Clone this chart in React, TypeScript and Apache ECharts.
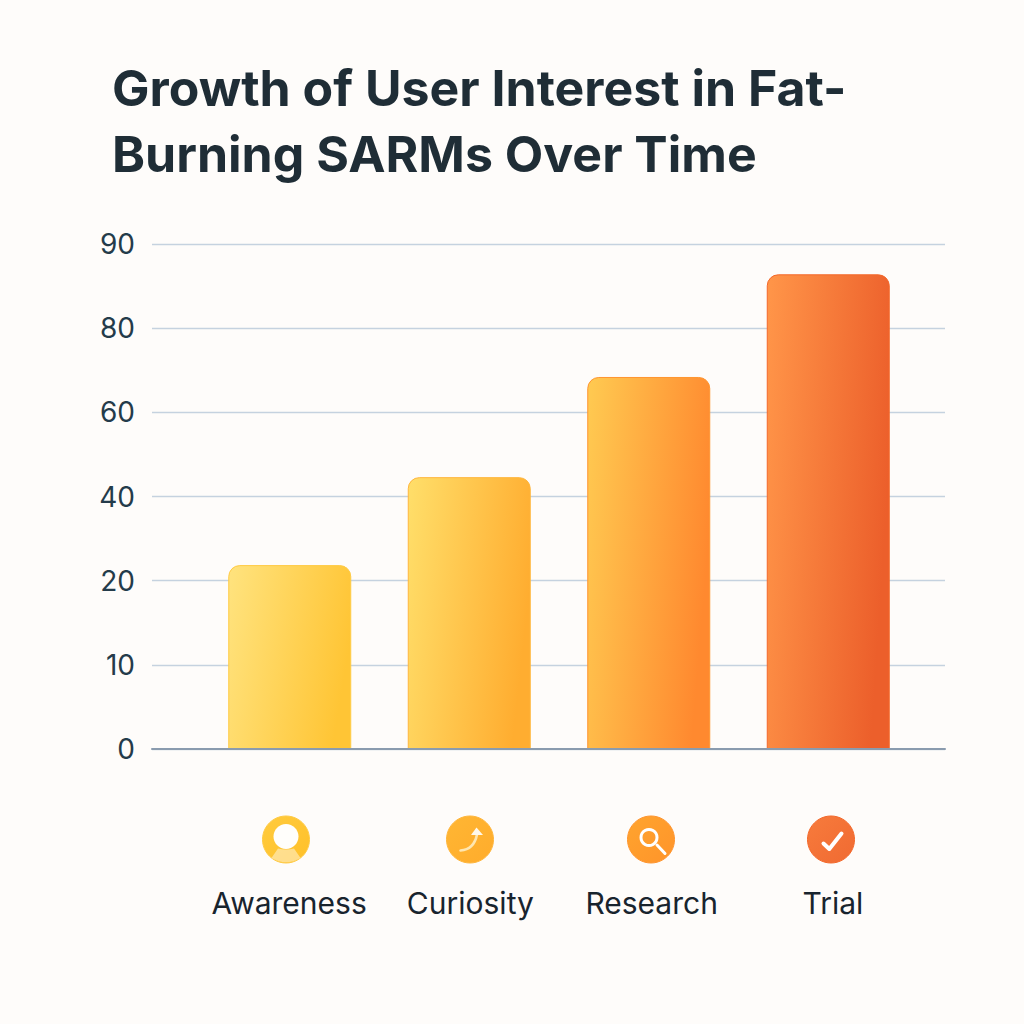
import React, { useEffect, useRef } from "react";
import * as echarts from "echarts";

const titleLines = ["Growth of User Interest in Fat-", "Burning SARMs Over Time"];
const categories = ["Awareness", "Curiosity", "Research", "Trial"];
const interest = [23.7, 44.6, 68.4, 86.4];
// The reference's value axis is evenly spaced but its labels are not linear.
const tickLabels = [0, 10, 20, 40, 60, 80, 90];
const barStart = ["#FFE27C", "#FFDD68", "#FFC850", "#FF9448"];
const barEnd = ["#FFC535", "#FFAD30", "#FF892F", "#EC5F2B"];
const barEdge = ["#FFCB45", "#FFB63C", "#FF952F", "#F4682A"];
const iconStart = ["#FFCB3E", "#FFB633", "#FFA42E", "#F77B3C"];
const iconEnd = ["#FFC028", "#FFAC2C", "#FF942A", "#F06A32"];
const iconX = [286, 470, 651, 831];

const BG = "#FEFCFA";
const FONT = "Inter, 'Noto Sans', sans-serif";

const toAxisPosition = (v: number) => {
  for (let i = 0; i < tickLabels.length - 1; i++) {
    const a = tickLabels[i];
    const b = tickLabels[i + 1];
    if (v <= b) return i + (v - a) / (b - a);
  }
  return tickLabels.length - 1;
};

echarts.graphic.registerShape(
  "personBody",
  echarts.graphic.extendPath("M-8,9 Q0,11 8,9 L14.5,18.5 Q0,27 -14.5,18.5 Z", {})
);
echarts.graphic.registerShape(
  "curveArrow",
  echarts.graphic.extendPath("M-9.5,11 Q4,10 7,-5", {})
);
echarts.graphic.registerShape(
  "arrowHead",
  echarts.graphic.extendPath("M1,-4.5 L6.5,-12 L13,-4.5 Z", {})
);
echarts.graphic.registerShape(
  "lensHandle",
  echarts.graphic.extendPath("M6,5.5 L14,14", {})
);
echarts.graphic.registerShape(
  "checkMark",
  echarts.graphic.extendPath("M-7.5,4 L-1.7,9.5 L10.5,-6", {})
);

const disc = (i: number) => ({
  type: "circle",
  shape: { cx: iconX[i], cy: 839.5, r: 23.5 },
  style: {
    fill: new echarts.graphic.LinearGradient(0, 0, 1, 1, [
      { offset: 0, color: iconStart[i] },
      { offset: 1, color: iconEnd[i] },
    ]),
    stroke: barEdge[i],
    lineWidth: 1,
  },
  silent: true,
});

const iconGraphics = [
  disc(0),
  disc(1),
  disc(2),
  disc(3),
  {
    type: "ellipse",
    shape: { cx: iconX[0], cy: 836.5, rx: 12.5, ry: 12.5 },
    style: { fill: "#FFFEFB" },
    silent: true,
  },
  {
    type: "personBody",
    x: iconX[0],
    y: 839.5,
    style: { fill: "rgba(255,255,255,0.45)" },
    silent: true,
  },
  {
    type: "curveArrow",
    x: iconX[1],
    y: 839.5,
    style: { fill: "none", stroke: "#FFE6B0", lineWidth: 2.6, lineCap: "round" },
    silent: true,
  },
  {
    type: "arrowHead",
    x: iconX[1],
    y: 839.5,
    style: { fill: "#FFF8EA" },
    silent: true,
  },
  {
    type: "circle",
    shape: { cx: iconX[2] - 2, cy: 837.5, r: 8 },
    style: { fill: "none", stroke: "#FFFFFF", lineWidth: 3 },
    silent: true,
  },
  {
    type: "lensHandle",
    x: iconX[2],
    y: 839.5,
    style: { fill: "none", stroke: "#FFFFFF", lineWidth: 3, lineCap: "round" },
    silent: true,
  },
  {
    type: "checkMark",
    x: iconX[3],
    y: 839.5,
    style: { fill: "none", stroke: "#FFFFFF", lineWidth: 4, lineCap: "round", lineJoin: "round" },
    silent: true,
  },
];

export default function App() {
  const ref = useRef<HTMLDivElement>(null);

  useEffect(() => {
    document.body.style.margin = "0";
    document.body.style.background = BG;
    const chart = echarts.init(ref.current!, undefined, { renderer: "svg" });
    const hiddenY = {
      type: "value",
      min: 0,
      max: tickLabels.length - 1,
      interval: 1,
      show: false,
    };
    chart.setOption({
      animation: false,
      backgroundColor: BG,
      textStyle: { fontFamily: FONT },
      title: {
        text: titleLines.join("\n"),
        left: 107,
        top: 50,
        textStyle: {
          fontFamily: FONT,
          fontSize: 50,
          fontWeight: 700,
          lineHeight: 66,
          color: "#1F2D36",
        },
      },
      grid: [
        { left: 152, width: 793, top: 244, height: 505 },
        { left: 200, width: 718, top: 244, height: 505 },
        { left: 198.5, width: 725, top: 244, height: 505 },
      ],
      xAxis: [
        {
          gridIndex: 0,
          type: "value",
          min: 0,
          max: 1,
          z: 5,
          axisLine: { show: true, onZero: false, lineStyle: { color: "#8A9BAE", width: 2 } },
          axisTick: { show: false },
          axisLabel: { show: false },
          splitLine: { show: false },
        },
        {
          gridIndex: 1,
          type: "category",
          data: categories,
          show: false,
        },
        {
          gridIndex: 2,
          type: "category",
          data: categories,
          axisLine: { show: false },
          axisTick: { show: false },
          axisLabel: {
            interval: 0,
            margin: 139,
            fontFamily: FONT,
            fontSize: 30,
            color: "#18242E",
          },
        },
      ],
      yAxis: [
        {
          gridIndex: 0,
          type: "value",
          min: 0,
          max: tickLabels.length - 1,
          interval: 1,
          axisLine: { show: false },
          axisTick: { show: false },
          axisLabel: {
            margin: 17,
            fontFamily: FONT,
            fontSize: 28,
            color: "#243B4A",
            formatter: (v: number) => String(tickLabels[v]),
          },
          splitLine: { show: true, lineStyle: { color: "#C5D2DF", width: 1.3 } },
        },
        { ...hiddenY, gridIndex: 1 },
        { ...hiddenY, gridIndex: 2 },
      ],
      series: [
        {
          type: "bar",
          xAxisIndex: 1,
          yAxisIndex: 1,
          barWidth: 123,
          data: interest.map((v, i) => ({
            value: toAxisPosition(v),
            itemStyle: {
              color: new echarts.graphic.LinearGradient(0, 0.15, 1, 0.4, [
                { offset: 0, color: barStart[i] },
                { offset: 1, color: barEnd[i] },
              ]),
              borderColor: barEdge[i],
              borderWidth: 1,
              borderRadius: [11, 11, 0, 0],
            },
          })),
        },
      ],
      graphic: iconGraphics,
    });
    return () => chart.dispose();
  }, []);

  return (
    <div
      ref={ref}
      style={{ position: "absolute", left: 0, top: 0, width: 1024, height: 1024 }}
    />
  );
}
